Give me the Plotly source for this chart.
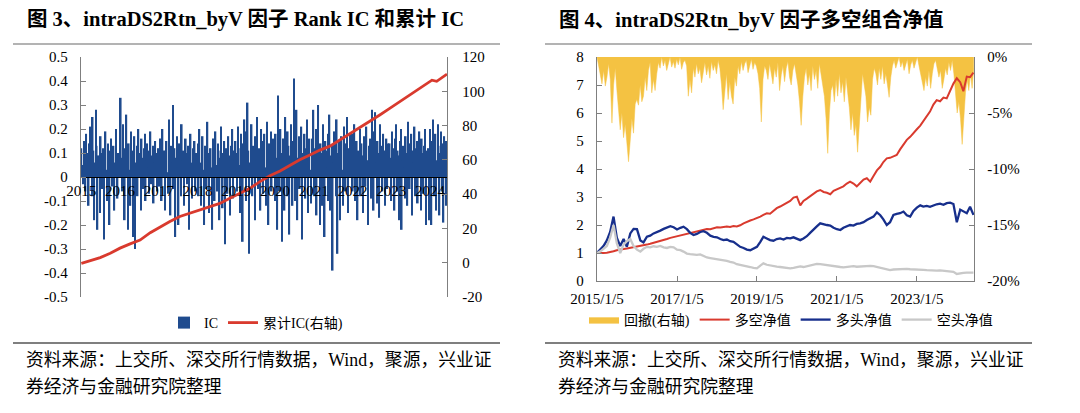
import pandas as pd
import plotly.graph_objects as go

# ---------------- data ----------------
# Figure 3: Rank IC, four readings per month, 2015-01 .. 2024-06
ic_2015 = [0.12, 0.05, -0.03, 0.15, 0.08, -0.06, 0.18, 0.10, 0.02, -0.12, 0.14, 0.21,
           0.07, -0.08, 0.25, 0.11, -0.18, 0.06, 0.28, 0.13, -0.22, 0.09, 0.04, -0.15,
           0.17, 0.10, -0.05, 0.12, -0.26, 0.08, 0.19, 0.03, -0.10, 0.14, 0.07, -0.20,
           0.11, 0.16, -0.04, 0.09, 0.13, -0.14, 0.06, 0.20, 0.01, -0.09, 0.10, 0.05]
ic_2016 = [0.15, 0.33, 0.08, -0.06, 0.22, 0.12, -0.18, 0.05, 0.26, 0.10, -0.22, 0.14,
           0.03, -0.12, 0.19, 0.09, -0.25, 0.11, 0.17, -0.30, 0.06, 0.13, -0.08, 0.20,
           0.10, 0.02, -0.14, 0.16, 0.08, -0.05, 0.12, 0.18, -0.10, 0.07, 0.14, 0.04,
           -0.07, 0.11, 0.19, -0.03, 0.09, 0.13, -0.11, 0.06, 0.15, 0.01, -0.06, 0.10]
ic_2017 = [0.12, -0.04, 0.16, 0.08, -0.10, 0.20, 0.05, 0.11, -0.14, 0.09, 0.15, 0.02,
           -0.07, 0.24, 0.10, -0.16, 0.13, 0.06, 0.30, -0.05, 0.12, -0.25, 0.08, 0.17,
           0.04, -0.20, 0.14, 0.09, -0.08, 0.22, 0.07, 0.11, -0.12, 0.05, 0.16, 0.10,
           -0.03, 0.13, -0.22, 0.08, 0.18, 0.06, -0.09, 0.12, 0.04, 0.15, -0.06, 0.10]
ic_2018 = [0.09, 0.14, -0.08, 0.20, 0.06, -0.12, 0.11, 0.17, 0.03, -0.20, 0.13, 0.08,
           -0.05, 0.23, 0.10, -0.15, 0.07, 0.12, 0.04, -0.22, 0.16, 0.09, -0.10, 0.19,
           0.05, -0.06, 0.14, 0.11, -0.18, 0.08, 0.21, 0.02, -0.13, 0.10, 0.15, -0.28,
           0.06, 0.12, -0.07, 0.17, 0.09, -0.16, 0.04, 0.13, 0.20, -0.09, 0.11, 0.07]
ic_2019 = [0.15, 0.10, -0.06, 0.21, 0.12, 0.05, -0.15, 0.18, 0.09, -0.27, 0.14, 0.24,
           0.08, -0.10, 0.19, 0.31, 0.11, -0.32, 0.06, 0.16, 0.22, -0.08, 0.13, 0.10,
           -0.18, 0.17, 0.07, 0.25, -0.05, 0.12, 0.09, -0.14, 0.20, 0.15, -0.07, 0.11,
           0.18, 0.04, -0.12, 0.23, 0.10, -0.20, 0.14, 0.08, 0.19, -0.06, 0.12, 0.16]
ic_2020 = [0.12, -0.10, 0.18, 0.08, -0.22, 0.34, 0.14, -0.06, 0.20, 0.10, -0.27, 0.16,
           0.07, -0.14, 0.25, 0.11, -0.08, 0.19, 0.13, -0.24, 0.09, 0.22, 0.05, -0.12,
           0.15, 0.41, -0.10, 0.12, 0.28, -0.18, 0.08, 0.17, -0.05, 0.14, 0.21, -0.26,
           0.10, 0.06, 0.18, -0.09, 0.12, 0.24, -0.15, 0.07, 0.16, 0.03, -0.11, 0.13]
ic_2021 = [0.16, 0.28, -0.08, 0.12, 0.20, -0.16, 0.09, 0.30, 0.05, -0.20, 0.14, 0.10,
           -0.12, 0.22, 0.07, -0.25, 0.15, 0.11, 0.04, -0.10, 0.18, 0.26, -0.14, 0.09,
           0.13, -0.39, 0.06, 0.19, 0.12, -0.08, 0.24, -0.32, 0.10, 0.15, -0.18, 0.08,
           0.17, 0.03, -0.12, 0.21, 0.11, -0.06, 0.14, 0.25, -0.15, 0.07, 0.12, 0.18]
ic_2022 = [0.10, 0.18, -0.06, 0.13, 0.22, -0.10, 0.08, 0.15, -0.18, 0.11, 0.05, 0.20,
           -0.08, 0.14, 0.09, -0.15, 0.17, 0.12, -0.04, 0.21, 0.07, -0.20, 0.13, 0.10,
           0.16, -0.09, 0.28, 0.12, -0.14, 0.19, 0.27, 0.06, -0.11, 0.15, 0.10, -0.17,
           0.22, 0.08, 0.13, -0.06, 0.18, 0.11, -0.12, 0.09, 0.16, -0.05, 0.14, 0.10]
ic_2023 = [0.14, 0.08, -0.10, 0.19, 0.12, 0.05, -0.14, 0.16, 0.22, -0.06, 0.11, 0.09,
           -0.18, 0.15, 0.20, -0.22, 0.07, 0.13, 0.04, -0.09, 0.17, 0.10, -0.12, 0.23,
           0.08, -0.05, 0.14, 0.18, -0.16, 0.11, 0.06, 0.21, -0.08, 0.12, 0.15, -0.11,
           0.09, 0.19, 0.03, -0.14, 0.16, 0.10, -0.07, 0.13, 0.20, -0.20, 0.11, 0.08]
ic_2024 = [0.12, -0.18, 0.20, 0.09, -0.20, 0.15, 0.24, -0.08, 0.11, 0.18, -0.14, 0.07,
           0.22, 0.13, -0.16, 0.10, 0.19, -0.06, 0.14, -0.19, 0.17, 0.08, -0.12, 0.15]
ic_values = ic_2015 + ic_2016 + ic_2017 + ic_2018 + ic_2019 + ic_2020 + ic_2021 + ic_2022 + ic_2023 + ic_2024
ic_dates = pd.date_range("2015-01-02", "2024-06-07", periods=len(ic_values))

cum_dates = ["2015-01-01", "2015-06-28", "2015-10-01", "2016-01-01", "2016-04-05", "2016-07-08",
             "2016-10-12", "2017-01-15", "2017-04-15", "2017-07-18", "2017-10-22", "2018-01-25",
             "2018-04-26", "2018-07-30", "2018-11-02", "2019-02-05", "2019-05-10", "2019-08-12",
             "2019-11-14", "2020-02-18", "2020-05-22", "2020-08-22", "2020-11-25", "2021-02-28",
             "2021-06-02", "2021-09-05", "2021-12-06", "2022-03-10", "2022-06-12", "2022-09-15",
             "2022-12-18", "2023-03-22", "2023-06-24", "2023-09-27", "2023-12-30", "2024-01-20",
             "2024-03-05", "2024-04-10", "2024-05-20", "2024-06-10"]
cum_ic = [-0.4, 3.0, 5.5, 8.5, 11.0, 13.2, 17.5, 21.0, 24.0, 27.0, 29.0, 30.7,
          32.7, 34.6, 37.6, 40.5, 43.4, 47.3, 50.7, 53.5, 56.8, 60.0, 62.8, 65.7,
          68.0, 71.6, 75.5, 79.0, 82.3, 86.2, 90.0, 94.0, 97.8, 101.7, 105.6, 106.5,
          105.8, 107.5, 109.5, 110.0]

# Figure 4: monthly net values 2015-01 .. 2024-06
ls_nav = [1.00, 0.99, 1.00, 1.01, 1.03, 1.06, 1.10, 1.13, 1.14, 1.16, 1.18, 1.21,
          1.23, 1.24, 1.27, 1.30, 1.33, 1.36, 1.39, 1.43, 1.47, 1.50, 1.54, 1.57,
          1.60, 1.62, 1.66, 1.70, 1.73, 1.76, 1.78, 1.80, 1.83, 1.86, 1.85, 1.89,
          1.92, 1.91, 1.94, 1.95, 1.93, 1.96, 1.95, 1.99, 2.06, 2.12, 2.16, 2.20,
          2.24, 2.30, 2.36, 2.42, 2.40, 2.52, 2.60, 2.66, 2.72, 2.80, 2.86, 2.98,
          3.01, 2.70, 2.86, 2.94, 3.02, 3.12, 3.20, 3.25, 3.18, 3.15, 3.10, 3.22,
          3.28, 3.33, 3.38, 3.48, 3.55, 3.48, 3.38, 3.50, 3.62, 3.67, 3.55, 3.75,
          3.95, 4.08, 4.25, 4.38, 4.40, 4.45, 4.50, 4.70, 4.88, 5.04, 5.15, 5.30,
          5.42, 5.55, 5.70, 5.85, 6.05, 6.30, 6.46, 6.42, 6.55, 6.52, 6.80, 7.05,
          7.24, 7.10, 6.78, 7.30, 7.28, 7.44]
long_nav = [1.00, 1.12, 1.25, 1.45, 1.75, 2.30, 1.55, 1.25, 1.50, 1.22, 1.70, 1.86,
            1.85, 1.45, 1.38, 1.58, 1.62, 1.70, 1.74, 1.80, 1.86, 1.90, 1.96, 1.92,
            1.84, 1.90, 1.94, 1.85, 1.72, 1.64, 1.68, 1.75, 1.78, 1.72, 1.62, 1.58,
            1.56, 1.50, 1.46, 1.48, 1.42, 1.40, 1.30, 1.22, 1.18, 1.12, 1.10, 1.16,
            1.22, 1.40, 1.58, 1.52, 1.46, 1.44, 1.50, 1.52, 1.48, 1.54, 1.52, 1.56,
            1.50, 1.46, 1.52, 1.60, 1.72, 1.82, 1.95, 2.06, 2.02, 2.00, 1.98, 1.90,
            1.85, 1.82, 1.90, 1.96, 2.00, 1.98, 2.04, 2.06, 2.10, 2.18, 2.24, 2.30,
            2.45, 2.35, 2.20, 2.00, 2.10, 2.36, 2.40, 2.42, 2.48, 2.35, 2.30, 2.50,
            2.62, 2.70, 2.66, 2.68, 2.65, 2.70, 2.74, 2.76, 2.72, 2.78, 2.80, 2.75,
            2.10, 2.55, 2.50, 2.42, 2.65, 2.36]
short_nav = [1.00, 1.06, 1.15, 1.25, 1.55, 2.00, 1.35, 1.00, 1.30, 1.42, 1.50, 1.25,
             1.12, 1.05, 1.15, 1.22, 1.20, 1.24, 1.22, 1.25, 1.20, 1.18, 1.22, 1.20,
             1.12, 1.10, 1.05, 0.98, 0.96, 0.94, 0.93, 0.95, 0.90, 0.84, 0.82, 0.80,
             0.78, 0.76, 0.75, 0.72, 0.68, 0.66, 0.60, 0.58, 0.55, 0.52, 0.50, 0.47,
             0.45, 0.55, 0.63, 0.58, 0.55, 0.52, 0.51, 0.50, 0.48, 0.46, 0.45, 0.47,
             0.50, 0.52, 0.50, 0.53, 0.56, 0.58, 0.61, 0.60, 0.58, 0.56, 0.55, 0.53,
             0.52, 0.50, 0.49, 0.50, 0.52, 0.53, 0.51, 0.52, 0.53, 0.54, 0.54, 0.53,
             0.50, 0.47, 0.44, 0.40, 0.39, 0.41, 0.42, 0.41, 0.42, 0.43, 0.42, 0.42,
             0.41, 0.40, 0.40, 0.39, 0.38, 0.38, 0.37, 0.38, 0.37, 0.36, 0.35, 0.33,
             0.25, 0.28, 0.29, 0.30, 0.29, 0.30]
nav_dates = pd.date_range("2015-01-01", periods=len(ls_nav), freq="MS") + pd.Timedelta(days=4)

# drawdown of long-short (%), two readings per month
drawdown = [0, -0.8, -1.5, -2.4, -1.2, -2.6, -1.8, -0.6, -2.0,
            -5.9, -2.5, -1.0, -3.0,
            -4.5, -6.5, -5.0, -7.2, -6.0, -8.0, -9.35, -7.5, -5.5, -6.8, -4.2,
            -3.8, -4.3, -2.5, -4.0, -3.5, -1.8, -3.0,
            -1.2, -0.5,
            -3.2, -2.0, -3.0, -1.5,
            -0.5, -1.0, 0, -0.8, -0.3, -1.2, -0.6, 0, -0.9, -0.4, -1.0, -0.2, -0.7, 0, -1.1, -0.5, -0.3, -0.8,
            -3.5, -2.0, -3.2,
            -1.0, -1.8, -0.6, -1.5, -1.0, -2.3, -1.2, -0.5, -1.6, -0.8, -1.9, -0.4, -1.2, -0.7, -1.5, -0.3, -1.0,
            -2.5, -4.7, -3.0, -1.5, -3.8, -2.2, -3.5, -4.2, -1.8, -2.6,
            -0.8, -1.5, -0.4, -1.2, -0.6, -0.3, -1.4, -0.9, -0.2, -1.1, -0.5, -0.8,
            -1.5, -2.8, -5.8, -2.0, -0.8,
            -1.2, -2.0, -0.6, -1.5, -2.4, -1.0, -1.8, -0.5, -3.0, -1.6, -0.8, -2.2, -1.0, -0.4, -1.8, -2.5, -1.2, -0.6, -1.5,
            -2.5, -4.0, -6.1, -3.5, -1.8,
            -1.0, -2.5, -1.5, -3.0, -0.8, -2.0, -1.2, -2.8, -0.6, -1.5, -2.2,
            -3.5, -5.5, -8.6, -5.0, -3.0,
            -2.5, -4.0, -2.0, -3.5, -1.5, -3.2, -2.2, -4.0, -1.8, -3.0,
            -4.5, -6.5, -5.0, -7.0, -6.0, -8.5, -6.2,
            -3.0, -1.5, -2.5, -3.5,
            -5.8, -4.5, -5.2, -2.0, -1.0,
            -1.5, -2.5, -1.0, -2.0, -0.8, -2.4, -1.5,
            -2.5, -3.6, -1.8,
            -0.8, -0.3, -1.0, -0.5, 0, -0.9, -0.4, -1.2, -0.6, -0.2, -1.5, -0.7, -0.3, -1.0, -0.5, 0, -0.8,
            -1.5, -2.2, -3.0, -1.8, -2.6, -1.2, -2.8, -1.5,
            -0.6, -0.3, -1.0,
            -1.8, -1.2, -2.8, -2.0, -1.0, -1.6,
            -0.5, -1.2, -0.3, -1.5,
            -3.5, -5.0, -4.0, -5.5, -7.8, -5.0,
            -3.2, -2.0, -3.0, -1.5, -2.8, -1.0]
dd_dates = pd.date_range("2015-01-05", "2024-06-08", periods=len(drawdown))

left_ticks = [-0.5, -0.4, -0.3, -0.2, -0.1, 0, 0.1, 0.2, 0.3, 0.4, 0.5]
left_tick_text = ["-0.5", "-0.4", "-0.3", "-0.2", "-0.1", "0", "0.1", "0.2", "0.3", "0.4", "0.5"]
cum_ticks = [-20, 0, 20, 40, 60, 80, 100, 120]
cum_tick_text = ["-20", "0", "20", "40", "60", "80", "100", "120"]
dd_ticks = [0, -5, -10, -15, -20]
dd_tick_text = ["0%", "-5%", "-10%", "-15%", "-20%"]
nav_ticks = [0, 1, 2, 3, 4, 5, 6, 7, 8]
date_ticks = ["2015-01-05", "2017-01-05", "2019-01-05", "2021-01-05", "2023-01-05"]
date_tick_text = ["2015/1/5", "2017/1/5", "2019/1/5", "2021/1/5", "2023/1/5"]

# ---------------- style ----------------
W, H = 1080, 413
OFF = 8  # the page body adds an 8px margin around the figure
FONT = "Liberation Serif, Noto Sans CJK SC, serif"
AXC = "#7f7f7f"
C_IC = "#1f4b8e"
C_RED = "#d93a2e"
C_BLUE = "#172f8c"
C_GRAY = "#c8c8c8"
C_YEL = "#f4c242"


def px_x(p):
    return (p - OFF) / W


def px_y(p):
    return (H - (p - OFF)) / H


tickfont = dict(family=FONT, size=15, color="#000")
# bars drawn a little wider than their spacing so the dense daily band reads as in the original
bar_w = (ic_dates[1] - ic_dates[0]).total_seconds() * 1000 * 2.0

fig = go.Figure()
fig.add_trace(go.Bar(x=ic_dates, y=ic_values, name="IC", marker=dict(color=C_IC, line=dict(width=0)),
                     width=bar_w, xaxis="x", yaxis="y", legend="legend"))
fig.add_trace(go.Scatter(x=cum_dates, y=cum_ic, name="累计IC(右轴)", mode="lines",
                         line=dict(color=C_RED, width=2.8), xaxis="x", yaxis="y2", legend="legend"))
fig.add_trace(go.Scatter(x=dd_dates, y=drawdown, name="回撤(右轴)", mode="lines", fill="tozeroy",
                         fillcolor=C_YEL, line=dict(color=C_YEL, width=0.5), xaxis="x2", yaxis="y3",
                         legend="legend2"))
fig.add_trace(go.Scatter(x=nav_dates, y=ls_nav, name="多空净值", mode="lines",
                         line=dict(color=C_RED, width=2), xaxis="x2", yaxis="y4", legend="legend2"))
fig.add_trace(go.Scatter(x=nav_dates, y=long_nav, name="多头净值", mode="lines",
                         line=dict(color=C_BLUE, width=2.3), xaxis="x2", yaxis="y4", legend="legend2"))
fig.add_trace(go.Scatter(x=nav_dates, y=short_nav, name="空头净值", mode="lines",
                         line=dict(color=C_GRAY, width=2.3), xaxis="x2", yaxis="y4", legend="legend2"))

ydom1 = [px_y(297), px_y(57)]
ydom2 = [px_y(281), px_y(57)]
common_y = dict(showgrid=False, zeroline=False, showline=True, linecolor=AXC, linewidth=1.3,
                ticks="inside", ticklen=5, tickcolor=AXC, tickwidth=1.2, tickfont=tickfont,
                automargin=False)

fig.update_layout(
    width=W, height=H, margin=dict(l=0, r=0, t=0, b=0, pad=0, autoexpand=False), autosize=False,
    paper_bgcolor="white", plot_bgcolor="white",
    font=dict(family=FONT, size=14, color="#000"),
    xaxis=dict(domain=[px_x(81), px_x(447)], anchor="free", position=px_y(177), type="date",
               range=["2014-12-29", "2024-06-10"], tick0="2015-01-01", dtick="M12", tickformat="%Y",
               showgrid=False, zeroline=False, showline=True, linecolor="#000", linewidth=1,
               ticks="", tickfont=tickfont, ticklabelstandoff=0, automargin=False),
    yaxis=dict(domain=ydom1, anchor="x", range=[-0.5, 0.5], tickvals=left_ticks, ticktext=left_tick_text,
               ticklabelstandoff=9, **common_y),
    yaxis2=dict(domain=ydom1, anchor="x", overlaying="y", side="right", range=[-20, 120],
                tickvals=cum_ticks, ticktext=cum_tick_text, ticklabelstandoff=11, **common_y),
    xaxis2=dict(domain=[px_x(597), px_x(974)], anchor="y3", type="date",
                range=["2015-01-05", "2024-06-10"], tickvals=date_ticks, ticktext=date_tick_text,
                showgrid=False, zeroline=False, showline=True, linecolor=AXC, linewidth=1.3,
                ticks="inside", ticklen=5, tickcolor=AXC, tickfont=tickfont, ticklabelstandoff=4,
                automargin=False),
    yaxis3=dict(domain=ydom2, anchor="x2", side="right", range=[-20, 0], tickvals=dd_ticks,
                ticktext=dd_tick_text, ticklabelstandoff=9, **common_y),
    yaxis4=dict(domain=ydom2, anchor="x2", overlaying="y3", side="left", range=[0, 8],
                tickvals=nav_ticks, ticklabelstandoff=9, **common_y),
    legend=dict(x=px_x(256), y=px_y(323), xanchor="center", yanchor="middle", orientation="h",
                bgcolor="rgba(0,0,0,0)", font=dict(family=FONT, size=14), itemwidth=30,
                tracegroupgap=0),
    legend2=dict(x=px_x(791), y=px_y(320), xanchor="center", yanchor="middle", orientation="h",
                 bgcolor="rgba(0,0,0,0)", font=dict(family=FONT, size=14), itemwidth=30,
                 tracegroupgap=0),
    showlegend=True,
)

title_font = dict(family=FONT, size=20.5, color="#000")
src_font = dict(family=FONT, size=17.8, color="#000")
annos = [
    dict(text="<b>图 3、intraDS2Rtn_byV 因子 Rank IC 和累计 IC</b>", x=px_x(25), y=px_y(20), font=title_font),
    dict(text="<b>图 4、intraDS2Rtn_byV 因子多空组合净值</b>", x=px_x(557), y=px_y(20), font=title_font),
    dict(text="资料来源：上交所、深交所行情数据，Wind，聚源，兴业证", x=px_x(24), y=px_y(360), font=src_font),
    dict(text="券经济与金融研究院整理", x=px_x(24), y=px_y(387), font=src_font),
    dict(text="资料来源：上交所、深交所行情数据，Wind，聚源，兴业证", x=px_x(556), y=px_y(360), font=src_font),
    dict(text="券经济与金融研究院整理", x=px_x(556), y=px_y(387), font=src_font),
]
for a in annos:
    fig.add_annotation(xref="paper", yref="paper", xanchor="left", yanchor="middle", showarrow=False, **a)

for x0, x1 in [(13, 500), (545, 1032)]:
    fig.add_shape(type="line", xref="paper", yref="paper", x0=px_x(x0), x1=px_x(x1),
                  y0=px_y(44), y1=px_y(44), line=dict(color="#9a9a9a", width=1.6))
    fig.add_shape(type="line", xref="paper", yref="paper", x0=px_x(x0), x1=px_x(x1),
                  y0=px_y(343), y1=px_y(343), line=dict(color="#000", width=1.2))

fig.write_html("out.html")
